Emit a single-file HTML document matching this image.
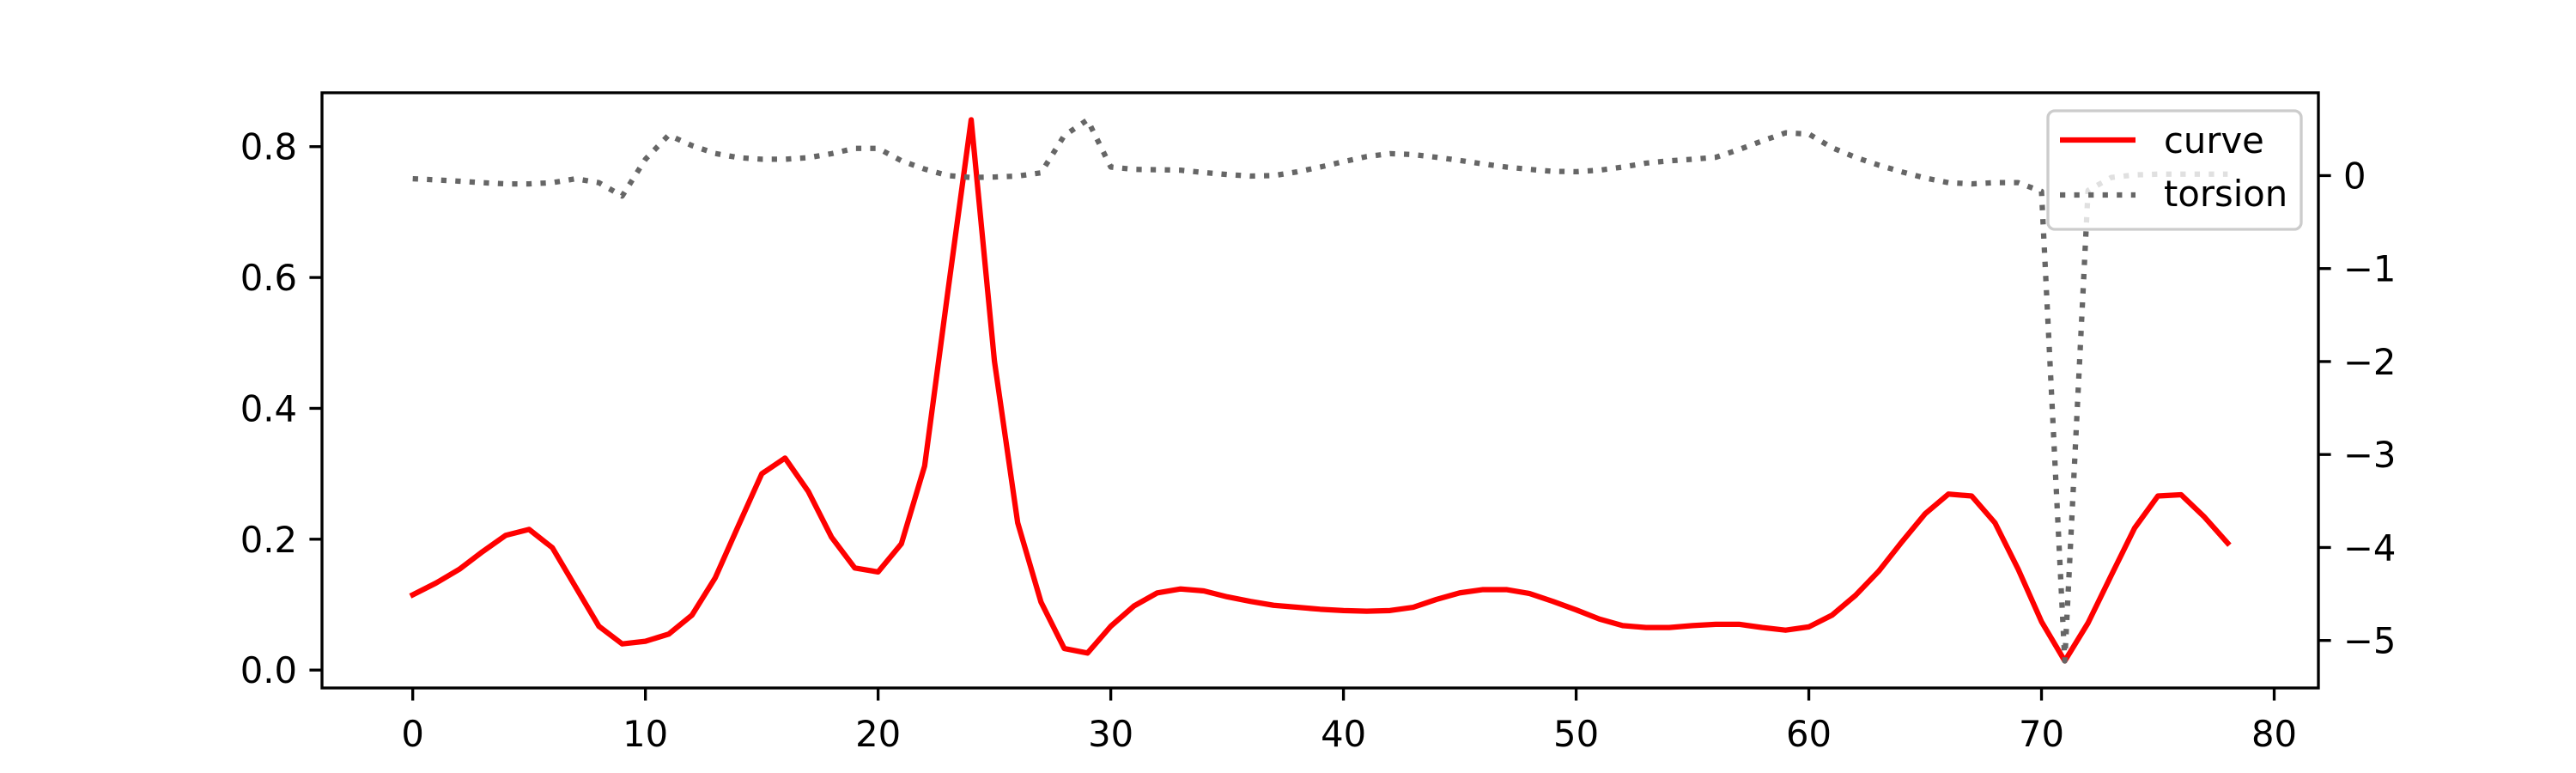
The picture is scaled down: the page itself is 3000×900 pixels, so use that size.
<!DOCTYPE html>
<html><head><meta charset="utf-8"><style>
html,body{margin:0;padding:0;background:#fff;}
svg{display:block;}
text{font-family:"DejaVu Sans","Liberation Sans",sans-serif;font-size:41.7px;fill:#000;}
</style></head><body>
<svg id="chart" width="3000" height="900" viewBox="0 0 3000 900" xmlns="http://www.w3.org/2000/svg">
<rect x="0" y="0" width="3000" height="900" fill="#fff"/>
<g id="plot"></g>
</svg>
<script>
const xTicks = [0,10,20,30,40,50,60,70,80];
const leftTicks = [0.0,0.2,0.4,0.6,0.8];
const leftTickLabels = ["0.0","0.2","0.4","0.6","0.8"];
const rightTicks = [-5,-4,-3,-2,-1,0];
const rightTickLabels = ["\u22125","\u22124","\u22123","\u22122","\u22121","0"];
const curveValues = [0.115,0.133,0.154,0.181,0.206,0.215,0.187,0.127,0.067,0.040,0.044,0.055,0.084,0.141,0.221,0.300,0.324,0.273,0.203,0.156,0.150,0.193,0.312,0.579,0.841,0.472,0.225,0.104,0.033,0.026,0.067,0.098,0.118,0.124,0.121,0.112,0.105,0.099,0.096,0.093,0.091,0.090,0.091,0.096,0.108,0.118,0.123,0.123,0.117,0.105,0.092,0.078,0.068,0.065,0.065,0.068,0.070,0.070,0.065,0.061,0.066,0.084,0.114,0.151,0.196,0.239,0.269,0.266,0.225,0.154,0.074,0.014,0.072,0.145,0.217,0.266,0.268,0.234,0.194];
const torsionValues = [-0.034,-0.046,-0.06,-0.076,-0.089,-0.089,-0.076,-0.034,-0.076,-0.22,0.176,0.436,0.323,0.238,0.193,0.176,0.176,0.193,0.236,0.293,0.293,0.16,0.07,0.0,-0.02,-0.015,-0.005,0.03,0.43,0.60,0.092,0.067,0.063,0.058,0.033,0.012,-0.005,0.0,0.04,0.092,0.15,0.205,0.236,0.226,0.197,0.163,0.125,0.092,0.067,0.046,0.042,0.058,0.092,0.134,0.159,0.176,0.197,0.28,0.373,0.46,0.447,0.30,0.197,0.113,0.04,-0.026,-0.076,-0.089,-0.076,-0.076,-0.17,-5.22,-0.16,-0.02,0.007,0.016,0.016,0.016,0.016];
const seriesNames = ["curve","torsion"];

const NS="http://www.w3.org/2000/svg";
const g=document.getElementById('plot');
const L=375,R=2700,T=108,B=801;
function lim(a){const mn=Math.min(...a),mx=Math.max(...a),m=(mx-mn)*0.05;return [mn-m,mx+m];}
const xl=lim(curveValues.map((_,i)=>i));
const yl=lim(curveValues), y2l=lim(torsionValues);
function sx(v){return L+(v-xl[0])/(xl[1]-xl[0])*(R-L);}
function sy(v){return B-(v-yl[0])/(yl[1]-yl[0])*(B-T);}
function sy2(v){return B-(v-y2l[0])/(y2l[1]-y2l[0])*(B-T);}
function mk(tag,attrs){const e=document.createElementNS(NS,tag);for(const k in attrs)e.setAttribute(k,attrs[k]);return e;}

const clip=mk('clipPath',{id:'clipAx'});clip.appendChild(mk('rect',{x:L,y:T,width:R-L,height:B-T}));g.appendChild(clip);

// series
const cp=mk('polyline',{points:curveValues.map((v,i)=>sx(i)+','+sy(v)).join(' '),fill:'none',stroke:'#ff0000','stroke-width':6.25,'stroke-linejoin':'round','stroke-linecap':'square','clip-path':'url(#clipAx)'});


g.appendChild(cp);
const tp=mk('polyline',{points:torsionValues.map((v,i)=>sx(i)+','+sy2(v)).join(' '),fill:'none',stroke:'#666666','stroke-width':6.25,'stroke-dasharray':'6.25 10.3','stroke-linejoin':'round','stroke-linecap':'butt','clip-path':'url(#clipAx)'});


g.appendChild(tp);

// spines
const fr=mk('rect',{x:L,y:T,width:R-L,height:B-T,fill:'none',stroke:'#000','stroke-width':3.33});


g.appendChild(fr);

// x ticks
xTicks.forEach(v=>{
  const x=sx(v);
  const t=mk('line',{x1:x,x2:x,y1:B,y2:B+14.6,stroke:'#000','stroke-width':3.33});
  
  
  g.appendChild(t);
  const tx=mk('text',{x:x,y:B+29+39,'text-anchor':'middle'});tx.textContent=String(v);
  
  
  g.appendChild(tx);
});
// left ticks
leftTicks.forEach((v,i)=>{
  const y=sy(v);
  const t=mk('line',{x1:L-14.6,x2:L,y1:y,y2:y,stroke:'#000','stroke-width':3.33});
  
  
  g.appendChild(t);
  const tx=mk('text',{x:L-29,y:y+15,'text-anchor':'end'});tx.textContent=leftTickLabels[i];
  
  
  g.appendChild(tx);
});
// right ticks
rightTicks.forEach((v,i)=>{
  const y=sy2(v);
  const t=mk('line',{x1:R,x2:R+14.6,y1:y,y2:y,stroke:'#000','stroke-width':3.33});
  
  
  g.appendChild(t);
  const tx=mk('text',{x:R+29,y:y+15,'text-anchor':'start'});tx.textContent=rightTickLabels[i];
  
  
  g.appendChild(tx);
});

// legend
const lg=mk('g',{});


g.appendChild(lg);
const lb=mk('rect',{x:2385,y:129,width:295,height:138,rx:8,ry:8,fill:'rgba(255,255,255,0.8)',stroke:'#cccccc','stroke-width':3.33});


lg.appendChild(lb);
const l1=mk('line',{x1:2399,x2:2487,y1:163,y2:163,stroke:'#ff0000','stroke-width':6.25});


lg.appendChild(l1);
const t1=mk('text',{x:2520,y:178});t1.textContent=seriesNames[0];


lg.appendChild(t1);
const l2=mk('line',{x1:2399,x2:2487,y1:227,y2:227,stroke:'#666666','stroke-width':6.25,'stroke-dasharray':'6.25 10.3'});


lg.appendChild(l2);
const t2=mk('text',{x:2520,y:240});t2.textContent=seriesNames[1];


lg.appendChild(t2);
</script>
</body></html>
